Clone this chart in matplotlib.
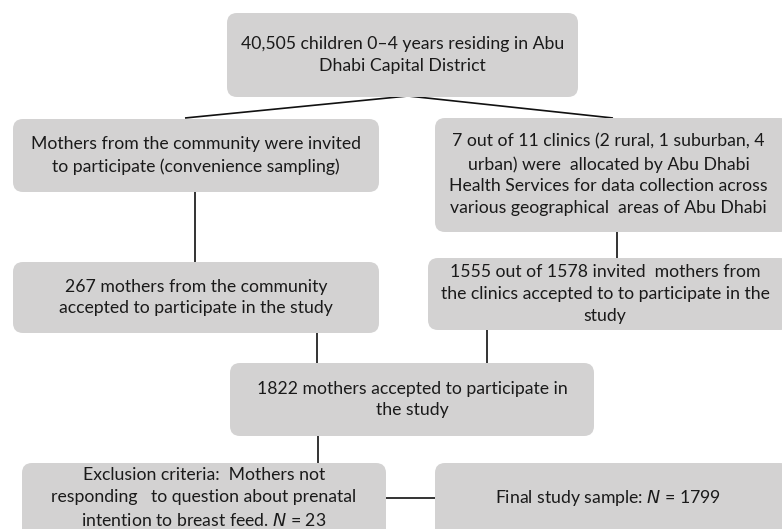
import matplotlib.pyplot as plt
from matplotlib.patches import FancyBboxPatch

# box texts of the flow chart
labels = [
    "40,505 children 0\u20134 years residing in Abu\nDhabi Capital District",
    "Mothers from the community were invited\nto participate (convenience sampling)",
    "7 out of 11 clinics (2 rural, 1 suburban, 4\nurban) were  allocated by Abu Dhabi\n"
    "Health Services for data collection across\nvarious geographical  areas of Abu Dhabi",
    "267 mothers from the community\naccepted to participate in the study",
    "1555 out of 1578 invited  mothers from\nthe clinics accepted to to participate in the\nstudy",
    "1822 mothers accepted to participate in\nthe study",
    "Exclusion criteria:  Mothers not\nresponding   to question about prenatal\nintention to breast feed. $\\it{N}$ = 23",
    "Final study sample: $\\it{N}$ = 1799",
]

# layout in pixels: x0, y0, x1, y1 (y downwards)
boxes = [
    (227, 13, 578, 97),
    (13, 119, 379, 192),
    (435, 118, 790, 232),
    (13, 262, 379, 333),
    (428, 258, 790, 330),
    (230, 363, 594, 436),
    (22, 463, 386, 560),
    (435, 463, 790, 560),
]
text_y = [None, None, None, None, None, None, 498, 498]

# connector segments
links = [
    [(185, 118), (408, 96), (613, 118)],
    [(195, 192), (195, 262)],
    [(617, 232), (617, 258)],
    [(317, 333), (317, 363)],
    [(487, 330), (487, 363)],
    [(318, 436), (318, 463)],
    [(386, 498), (435, 498)],
]

plt.rcParams['font.family'] = ['Lato', 'DejaVu Sans']
fig = plt.figure(figsize=(7.82, 5.29), dpi=100)
ax = fig.add_axes([0, 0, 1, 1])
ax.set_xlim(0, 782)
ax.set_ylim(529, 0)
ax.axis('off')

for pts in links:
    xs, ys = zip(*pts)
    ax.plot(xs, ys, color='#111111', lw=1.2, zorder=1, solid_capstyle='butt')

for (x0, y0, x1, y1), txt, ty in zip(boxes, labels, text_y):
    patch = FancyBboxPatch((x0 + 10, y0 + 10), x1 - x0 - 20, y1 - y0 - 20,
                           boxstyle='round,pad=10', facecolor='#d3d2d2',
                           edgecolor='none', zorder=2)
    ax.add_patch(patch)
    cy = (y0 + y1) / 2 if ty is None else ty
    ax.text((x0 + min(x1, 782)) / 2, cy, txt, ha='center', va='center',
            fontsize=12.7, color='#1a1a1a', linespacing=1.45, zorder=3)

fig.savefig('out.png', dpi=100)
